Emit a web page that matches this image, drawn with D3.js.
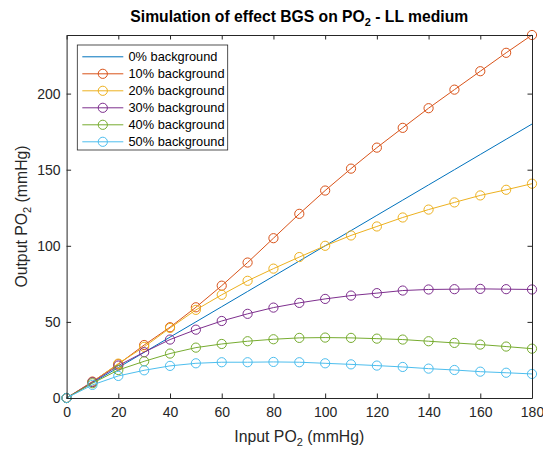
<!DOCTYPE html>
<html>
<head>
<meta charset="utf-8">
<script src="https://cdn.jsdelivr.net/npm/d3@7"></script>
<style>
  html, body { margin: 0; padding: 0; background: #fff; }
  svg { display: block; font-family: "Liberation Sans", Arial, Helvetica, sans-serif; }
</style>
</head>
<body>
<svg id="chart" width="543" height="449"></svg>
<script>
// Input PO2 sample points (mmHg)
const inputPO2 = [0, 10, 20, 30, 40, 50, 60, 70, 80, 90, 100, 110, 120, 130, 140, 150, 160, 170, 180];

// Output PO2 for each background level (mmHg)
const bg0  = [0, 10, 20, 30, 40, 50, 60, 70, 80, 90, 100, 110, 120, 130, 140, 150, 160, 170, 180];
const bg10 = [0, 10.8, 22.2, 34.8, 46.5, 59.6, 73.8, 89.0, 105.0, 121.0, 136.3, 150.7, 164.5, 177.5, 190.4, 202.6, 214.7, 226.8, 238.5];
const bg20 = [0, 10.5, 22.6, 33.6, 46.0, 57.9, 67.8, 77.0, 85.0, 92.6, 100.0, 106.8, 112.7, 118.6, 123.8, 128.5, 133.1, 136.8, 140.8];
const bg30 = [0, 10.4, 21.3, 30.1, 38.4, 44.9, 50.6, 55.3, 59.4, 62.5, 65.1, 67.3, 68.9, 70.6, 71.3, 71.5, 71.7, 71.5, 71.3];
const bg40 = [0, 9.7, 18.4, 24.1, 29.2, 33.1, 35.5, 37.3, 38.6, 39.5, 39.7, 39.5, 39.0, 38.4, 37.3, 36.2, 35.1, 33.8, 32.4];
const bg50 = [0, 8.6, 14.5, 18.2, 21.1, 22.8, 23.5, 23.5, 23.7, 23.5, 22.8, 22.1, 21.3, 20.4, 19.3, 18.4, 17.3, 16.6, 15.8];

const seriesNames = ["0% background", "10% background", "20% background", "30% background", "40% background", "50% background"];
const seriesValues = [bg0, bg10, bg20, bg30, bg40, bg50];
const seriesColors = ["#0072BD", "#D95319", "#EDB120", "#7E2F8E", "#77AC30", "#4DBEEE"];
const seriesMarkers = [false, true, true, true, true, true];

const xTicks = [0, 20, 40, 60, 80, 100, 120, 140, 160, 180];
const yTicks = [0, 50, 100, 150, 200];

(function draw() {
  const svg = d3.select("#chart");
  const pL = 66.6, pR = 532, pT = 35, pB = 398;
  const axisColor = "#262626";

  const x = d3.scaleLinear().domain([0, 180]).range([pL, pR]);
  const yMax = d3.max(seriesValues, s => d3.max(s));
  const y = d3.scaleLinear().domain([0, yMax]).range([pB, pT]);

  // Data series
  const line = d3.line().x((d, i) => x(inputPO2[i])).y(d => y(d));
  const plot = svg.append("g");
  seriesValues.forEach((vals, k) => {
    plot.append("path").datum(vals)
      .attr("d", line).attr("fill", "none")
      .attr("stroke", seriesColors[k]).attr("stroke-width", 1);
    if (seriesMarkers[k]) {
      plot.selectAll(null).data(vals).enter().append("circle")
        .attr("cx", (d, i) => x(inputPO2[i])).attr("cy", d => y(d))
        .attr("r", 4.6).attr("fill", "none")
        .attr("stroke", seriesColors[k]).attr("stroke-width", 1);
    }
  });

  // Axes: bottom/left with labels, top/right mirrored ticks, all pointing inward
  const fmt = d3.format("d");
  const gx = svg.append("g").attr("transform", `translate(0,${pB})`)
    .call(d3.axisBottom(x).tickValues(xTicks).tickFormat(fmt).tickSizeInner(-4.5).tickSizeOuter(0).tickPadding(9.5));
  const gy = svg.append("g").attr("transform", `translate(${pL},0)`)
    .call(d3.axisLeft(y).tickValues(yTicks).tickFormat(fmt).tickSizeInner(-4.5).tickSizeOuter(0).tickPadding(6));
  const gxt = svg.append("g").attr("transform", `translate(0,${pT})`)
    .call(d3.axisTop(x).tickValues(xTicks).tickFormat("").tickSizeInner(-4.5).tickSizeOuter(0));
  const gyr = svg.append("g").attr("transform", `translate(${pR},0)`)
    .call(d3.axisRight(y).tickValues(yTicks).tickFormat("").tickSizeInner(-4.5).tickSizeOuter(0));

  [gx, gy, gxt, gyr].forEach(g => {
    g.select(".domain").attr("stroke", axisColor).attr("stroke-width", 1);
    g.selectAll(".tick line").attr("stroke", axisColor).attr("stroke-width", 1);
    g.selectAll(".tick text").attr("fill", axisColor).attr("font-size", 14)
      .attr("font-family", "'Liberation Sans', Arial, sans-serif");
  });

  // Axis labels
  const xl = svg.append("text").attr("x", (pL + pR) / 2).attr("y", 441.5)
    .attr("text-anchor", "middle").attr("font-size", 15.8).attr("fill", axisColor);
  xl.append("tspan").text("Input PO");
  xl.append("tspan").attr("font-size", 11).attr("dy", 4.5).text("2");
  xl.append("tspan").attr("dy", -4.5).text(" (mmHg)");

  const yl = svg.append("text")
    .attr("transform", `translate(26.5,${(pT + pB) / 2}) rotate(-90)`)
    .attr("text-anchor", "middle").attr("font-size", 15.8).attr("fill", axisColor);
  yl.append("tspan").text("Output PO");
  yl.append("tspan").attr("font-size", 11).attr("dy", 4.5).text("2");
  yl.append("tspan").attr("dy", -4.5).text(" (mmHg)");

  // Title
  const tt = svg.append("text").attr("x", (pL + pR) / 2).attr("y", 21.5)
    .attr("text-anchor", "middle").attr("font-size", 15.7).attr("font-weight", "bold").attr("fill", "#000");
  tt.append("tspan").text("Simulation of effect BGS on PO");
  tt.append("tspan").attr("font-size", 11).attr("dy", 4.5).text("2");
  tt.append("tspan").attr("dy", -4.5).text(" - LL medium");

  // Legend
  const lg = svg.append("g");
  lg.append("rect").attr("x", 77.3).attr("y", 45).attr("width", 150.4).attr("height", 105)
    .attr("fill", "#fff").attr("stroke", axisColor).attr("stroke-width", 0.8);
  seriesNames.forEach((name, k) => {
    const cy = 56.8 + k * 17;
    lg.append("line").attr("x1", 82.3).attr("x2", 123.3).attr("y1", cy).attr("y2", cy)
      .attr("stroke", seriesColors[k]).attr("stroke-width", 1);
    if (seriesMarkers[k]) {
      lg.append("circle").attr("cx", 102.8).attr("cy", cy).attr("r", 4.6)
        .attr("fill", "none").attr("stroke", seriesColors[k]).attr("stroke-width", 1);
    }
    lg.append("text").attr("x", 128.5).attr("y", cy).attr("dy", "0.35em")
      .attr("font-size", 12.8).attr("fill", "#000").text(name);
  });
})();
</script>
</body>
</html>
